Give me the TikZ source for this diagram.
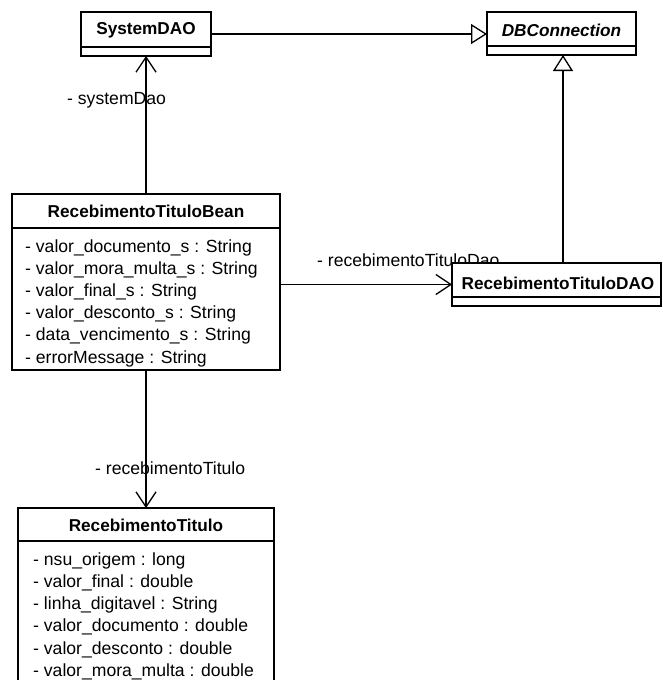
\documentclass[tikz,border=0pt]{standalone}
\usepackage{fontspec}
\setmainfont{Liberation Sans}
\usetikzlibrary{arrows.meta}
\begin{document}
\begin{tikzpicture}[x=1pt,y=-1pt,
  box/.style={draw, line width=2.6pt, fill=white, anchor=north west,
              inner sep=0pt, outer sep=0pt},
  sep/.style={line width=1.3pt},
  title/.style={font=\fontsize{17.2}{20}\selectfont\bfseries, inner sep=0pt},
  attr/.style={font=\fontsize{17.6}{22}\selectfont, anchor=base west, inner sep=0pt},
  role/.style={font=\fontsize{17.6}{22}\selectfont, anchor=base west, inner sep=0pt},
  assoc/.style={line width=1.3pt, -{Straight Barb[length=15pt,width=20pt]}},
  gen/.style={line width=1.3pt, -{Triangle[open,fill=white,length=16pt,width=20pt]}}
]
\useasboundingbox[fill=white] (0,0) rectangle (663,680);
\clip (0,0) rectangle (663,680);

% association role names (the DAO box is drawn over its label)
\node[role] (roleSys) at (67,104) {- systemDao};
\node[role] (roleDao) at (317,266) {- recebimentoTituloDao};
\node[role] (roleRt)  at (95,474) {- recebimentoTitulo};

% class boxes
\node[box, minimum width=130pt, minimum height=44pt] (sys)  at (81,12)  {};
\node[box, minimum width=149pt, minimum height=43pt] (dbc)  at (487,12) {};
\node[box, minimum width=209pt, minimum height=43pt] (dao)  at (452,263) {};
\node[box, minimum width=268pt, minimum height=176pt] (bean) at (12,194) {};
\node[box, minimum width=256pt, minimum height=212pt] (rt)   at (18,508) {};

% name / attribute compartments
\draw[sep] ([yshift=-35pt]sys.north west)  -- ([yshift=-35pt]sys.north east);
\draw[sep] ([yshift=-34pt]dbc.north west)  -- ([yshift=-34pt]dbc.north east);
\draw[sep] ([yshift=-34pt]dao.north west)  -- ([yshift=-34pt]dao.north east);
\draw[sep] ([yshift=-34pt]bean.north west) -- ([yshift=-34pt]bean.north east);
\draw[sep] ([yshift=-33pt]rt.north west)   -- ([yshift=-33pt]rt.north east);

% class names
\node[title] (sysT)  at (146,30)  {SystemDAO};
\node[title] (dbcT)  at (561.5,30) {\itshape DBConnection};
\node[title] (daoT)  at (558,283) {RecebimentoTituloDAO};
\node[title] (beanT) at (146,211) {RecebimentoTituloBean};
\node[title] (rtT)   at (146,525) {RecebimentoTitulo};

% attributes
\foreach \t [count=\i from 0] in {
  - valor\_documento\_s : String,
  - valor\_mora\_multa\_s : String,
  - valor\_final\_s : String,
  - valor\_desconto\_s : String,
  - data\_vencimento\_s : String,
  - errorMessage : String}
  \node[attr] (beanA\i) at (25,252+22.2*\i) {\t};

\foreach \t [count=\i from 0] in {
  - nsu\_origem : long,
  - valor\_final : double,
  - linha\_digitavel : String,
  - valor\_documento : double,
  - valor\_desconto : double,
  - valor\_mora\_multa : double}
  \node[attr] (rtA\i) at (33,565+22.3*\i) {\t};

% relations
\draw[gen]   (sys.east) -- (sys.east -| dbc.west);
\draw[gen]   ([xshift=1.5pt]dbc.south |- dao.north) -- ([xshift=1.5pt]dbc.south);
\draw[assoc] (bean.north) -- (sys.south);
\draw[assoc] (dao.west -| bean.east) -- (dao.west);
\draw[assoc] (bean.south) -- (rt.north);
\end{tikzpicture}
\end{document}
